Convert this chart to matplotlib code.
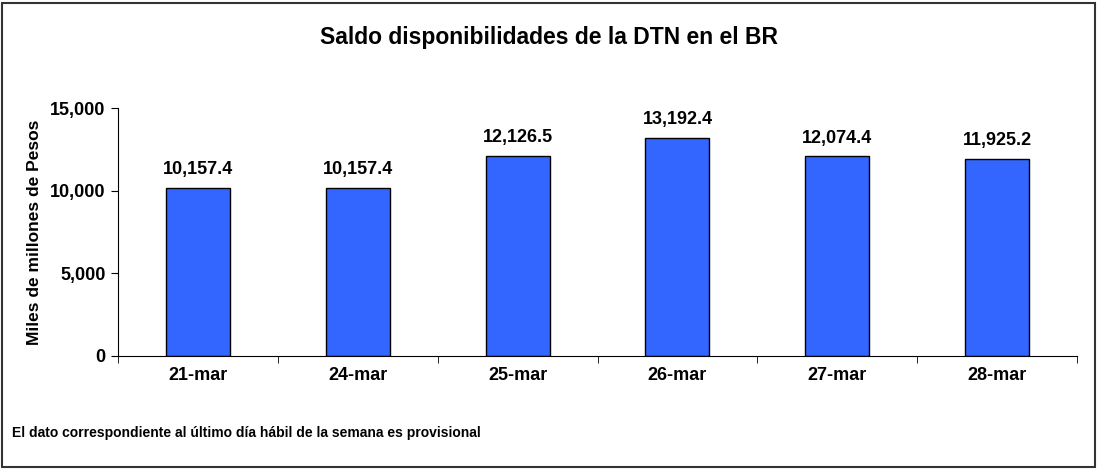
import numpy as np
import matplotlib
matplotlib.use("Agg")
import matplotlib.pyplot as plt
from matplotlib.patches import Rectangle
from matplotlib.ticker import FuncFormatter

plt.rcParams['font.family'] = ['Liberation Sans', 'DejaVu Sans']

categories = ["21-mar", "24-mar", "25-mar", "26-mar", "27-mar", "28-mar"]
values = [10157.4, 10157.4, 12126.5, 13192.4, 12074.4, 11925.2]

fig = plt.figure(figsize=(10.99, 4.70), dpi=100)
fig.patches.append(Rectangle((0.002, 0.006), 0.994, 0.988, transform=fig.transFigure,
                             fill=False, edgecolor="#333333", lw=1.5))

ax = fig.add_axes([0.1074, 0.2426, 0.8726, 0.5274])
x = np.arange(len(categories))
ax.bar(x, values, width=0.4, color="#3366FF", edgecolor="black", linewidth=1)

for xi, v in zip(x, values):
    ax.annotate(f"{v:,.1f}", (xi, v), xytext=(0, 7), textcoords="offset points",
                ha="center", va="bottom", fontsize=13, fontweight="bold")

ax.set_xlim(-0.5, len(categories) - 0.5)
ax.set_ylim(0, 15000)
ax.set_yticks([0, 5000, 10000, 15000])
ax.yaxis.set_major_formatter(FuncFormatter(lambda v, _: f"{v:,.0f}"))
ax.set_xticks(x)
ax.set_xticklabels(categories, fontsize=13, fontweight="bold")
ax.set_xticks(np.arange(-0.5, len(categories)), minor=True)
ax.tick_params(axis="x", which="major", length=0, pad=8)
ax.tick_params(axis="x", which="minor", length=5, direction="out")
ax.tick_params(axis="y", length=5, direction="out", labelsize=13, pad=4)
for lbl in ax.get_yticklabels():
    lbl.set_fontweight("bold")
ax.set_ylabel("Miles de millones de Pesos", fontsize=12.5, fontweight="bold", labelpad=6)
for s in ["top", "right"]:
    ax.spines[s].set_visible(False)

fig.text(0.5, 0.921, "Saldo disponibilidades de la DTN en el BR", ha="center", va="center",
         fontsize=16.5, fontweight="bold")
fig.text(0.011, 0.079, "El dato correspondiente al último día hábil de la semana es provisional",
         ha="left", va="center", fontsize=10, fontweight="bold")

fig.savefig("out.png", dpi=100)
